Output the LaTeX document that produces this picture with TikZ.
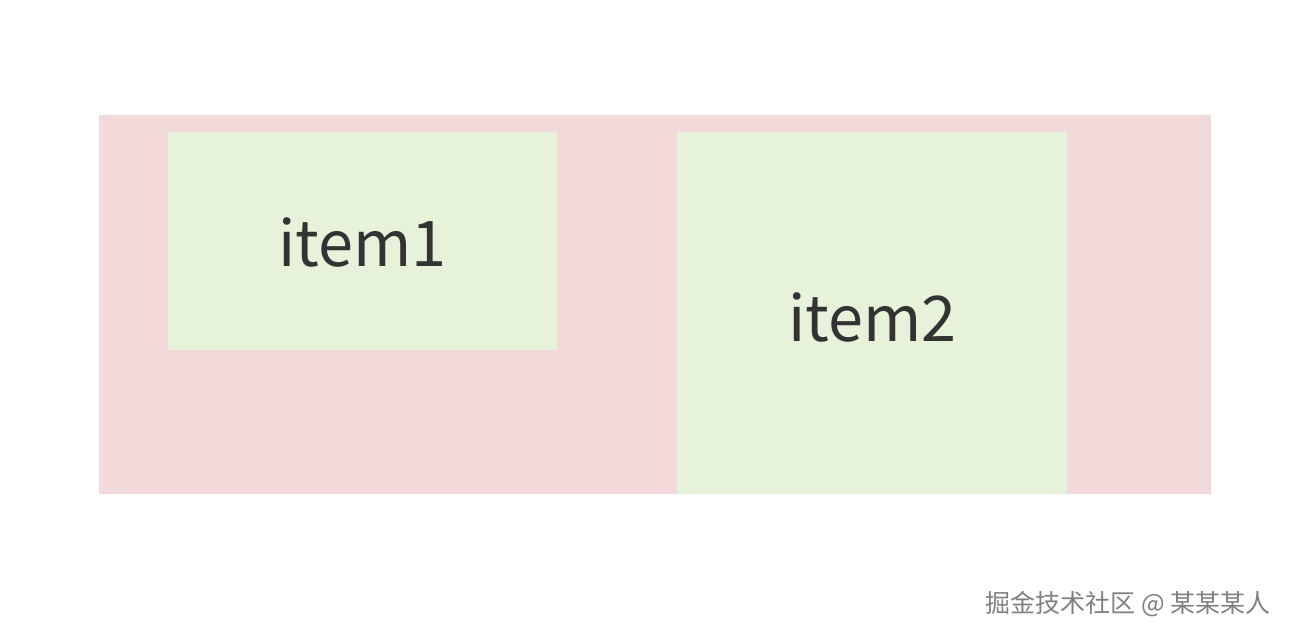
\documentclass[tikz,border=0pt]{standalone}
\usepackage{fontspec}
\setmainfont{Noto Sans CJK SC}
\newfontfamily\cjk{Noto Sans CJK SC}
\definecolor{pinkbg}{HTML}{F2DADB}
\definecolor{greenbg}{HTML}{E6F2DA}
\definecolor{txt}{HTML}{333333}
\definecolor{wm}{HTML}{808080}
\begin{document}
\begin{tikzpicture}[x=1pt,y=-1pt,
  itembox/.style={fill=greenbg,draw=none,inner sep=0pt},
  itemtext/.style={text=txt,font=\fontsize{63}{66}\selectfont,inner sep=0pt}]
\useasboundingbox[fill=white] (0,0) rectangle (1290,638);
\node[fill=pinkbg,inner sep=0pt,minimum width=1112pt,minimum height=379pt,anchor=north west] (container) at (99,115) {};
\node[itembox,minimum width=389pt,minimum height=218pt,anchor=north west] (item1) at (168,132) {};
\node[itembox,minimum width=390pt,minimum height=362pt,anchor=north west] (item2) at (677,132) {};
\node[itemtext] (t1) at ([yshift=-1pt]item1.center) {item1};
\node[itemtext] (t2) at ([yshift=-4pt]item2.center) {item2};
\node[text=wm,font=\cjk\fontsize{25}{28}\selectfont,inner sep=0pt,anchor=east] (wmark) at (1271,604) {掘金技术社区 @ 某某某人};
\end{tikzpicture}
\end{document}
